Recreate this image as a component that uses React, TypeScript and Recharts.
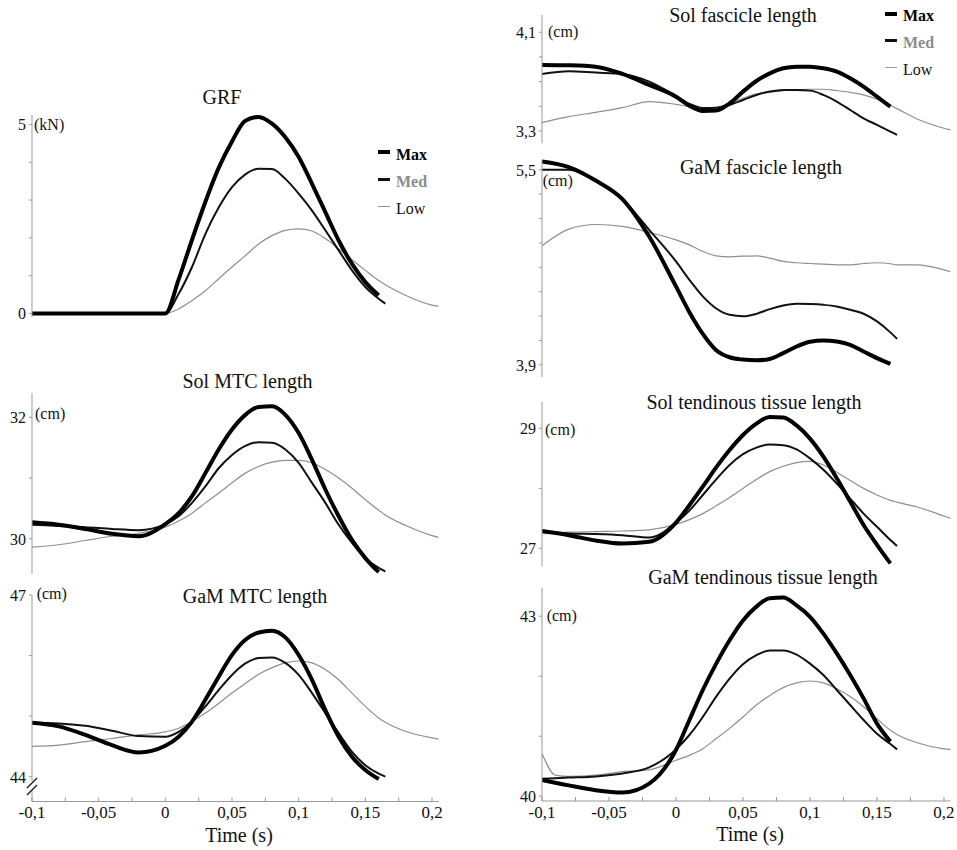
import React from 'react';
import { LineChart, Line, XAxis, YAxis, ReferenceLine, Legend } from 'recharts';

const FONT = "'Liberation Serif', 'DejaVu Serif', 'Times New Roman', serif";
const AXIS = '#9a9a9a';

// ---------- shared time grid (s) ----------
const time = [-0.1, -0.09, -0.08, -0.06, -0.04, -0.02, 0, 0.01, 0.02, 0.03, 0.04, 0.05, 0.06, 0.07, 0.08, 0.09, 0.1, 0.11, 0.12, 0.13, 0.14, 0.15, 0.16, 0.165, 0.18, 0.2, 0.205];

// ---------- GRF (kN) ----------
const grfMax = [0, null, 0, 0, 0, 0, 0, 0.9, 1.95, 2.95, 3.85, 4.55, 5.1, 5.2, 5.02, 4.66, 4.14, 3.43, 2.68, 1.93, 1.31, 0.83, 0.48, null, null, null, null];
const grfMed = [0, null, 0, 0, 0, 0, 0, 0.52, 1.23, 2.1, 2.8, 3.34, 3.68, 3.83, 3.82, 3.56, 3.17, 2.72, 2.2, 1.67, 1.14, 0.7, 0.39, 0.26, null, null, null];
const grfLow = [0, null, 0, 0, 0, 0, 0, 0.12, 0.34, 0.6, 0.92, 1.23, 1.53, 1.84, 2.06, 2.2, 2.24, 2.18, 1.98, 1.71, 1.42, 1.14, 0.87, 0.76, 0.48, 0.22, 0.19];

// ---------- Sol MTC length (cm) ----------
const solMtcMax = [30.27, null, 30.23, 30.16, 30.08, 30.04, 30.24, 30.42, 30.7, 31.08, 31.47, 31.8, 32.04, 32.17, 32.18, 32.04, 31.74, 31.3, 30.81, 30.37, 29.98, 29.68, 29.45, null, null, null, null];
const solMtcMed = [30.23, null, 30.21, 30.19, 30.16, 30.14, 30.24, 30.37, 30.59, 30.86, 31.16, 31.38, 31.53, 31.59, 31.58, 31.47, 31.25, 30.92, 30.59, 30.23, 29.93, 29.68, 29.52, 29.46, null, null, null];
const solMtcLow = [29.86, null, 29.9, 29.97, 30.04, 30.09, 30.19, 30.29, 30.42, 30.59, 30.75, 30.92, 31.08, 31.19, 31.26, 31.29, 31.29, 31.25, 31.14, 31.0, 30.83, 30.64, 30.47, 30.39, 30.22, 30.05, 30.02];

// ---------- GaM MTC length (cm) ----------
const gamMtcMax = [44.89, null, 44.83, 44.69, 44.52, 44.4, 44.51, 44.66, 44.91, 45.27, 45.65, 46.01, 46.26, 46.38, 46.41, 46.3, 46.01, 45.6, 45.1, 44.66, 44.33, 44.11, 43.96, null, null, null, null];
const gamMtcMed = [44.89, null, 44.88, 44.84, 44.76, 44.67, 44.66, 44.74, 44.91, 45.16, 45.43, 45.68, 45.87, 45.96, 45.97, 45.88, 45.68, 45.38, 45.05, 44.72, 44.41, 44.19, 44.05, 44.0, null, null, null];
const gamMtcLow = [44.5, null, 44.52, 44.58, 44.63, 44.69, 44.74, 44.8, 44.91, 45.05, 45.21, 45.38, 45.54, 45.69, 45.8, 45.88, 45.91, 45.88, 45.77, 45.6, 45.38, 45.16, 44.97, 44.9, 44.75, 44.64, 44.62];

// ---------- Sol fascicle length (cm) ----------
const solFasMax = [3.835, null, 3.832, 3.821, 3.762, 3.673, 3.578, 3.505, 3.462, 3.465, 3.524, 3.619, 3.705, 3.767, 3.808, 3.821, 3.821, 3.808, 3.781, 3.727, 3.659, 3.578, 3.497, null, null, null, null];
const solFasMed = [3.762, null, 3.784, 3.773, 3.762, 3.7, 3.584, 3.52, 3.486, 3.488, 3.511, 3.551, 3.592, 3.619, 3.632, 3.632, 3.627, 3.592, 3.538, 3.47, 3.403, 3.349, 3.295, 3.268, null, null, null];
const solFasLow = [3.368, null, 3.416, 3.451, 3.489, 3.538, 3.516, 3.497, 3.484, 3.492, 3.524, 3.565, 3.6, 3.613, 3.627, 3.632, 3.638, 3.638, 3.627, 3.613, 3.592, 3.557, 3.508, 3.481, 3.397, 3.322, 3.308];

// ---------- GaM fascicle length (cm) ----------
const gamFasMax = [5.568, null, 5.522, 5.412, 5.259, 4.952, 4.543, 4.332, 4.154, 4.02, 3.962, 3.943, 3.937, 3.948, 3.996, 4.05, 4.089, 4.1, 4.091, 4.064, 4.009, 3.955, 3.908, null, null, null, null];
const gamFasMed = [5.5, null, 5.5, 5.412, 5.259, 5.007, 4.748, 4.597, 4.461, 4.362, 4.31, 4.298, 4.318, 4.357, 4.386, 4.4, 4.398, 4.392, 4.379, 4.351, 4.319, 4.256, 4.166, 4.113, null, null, null];
const gamFasLow = [4.876, null, 5.013, 5.051, 5.035, 4.986, 4.925, 4.884, 4.83, 4.794, 4.786, 4.791, 4.794, 4.775, 4.748, 4.737, 4.731, 4.726, 4.72, 4.72, 4.731, 4.737, 4.729, 4.72, 4.72, 4.679, 4.663];

// ---------- Sol tendinous tissue length (cm) ----------
const solTenMax = [27.29, null, 27.22, 27.13, 27.08, 27.11, 27.43, 27.72, 28.03, 28.35, 28.64, 28.89, 29.08, 29.19, 29.18, 29.05, 28.83, 28.53, 28.17, 27.78, 27.39, 27.06, 26.75, null, null, null, null];
const solTenMed = [27.28, null, 27.25, 27.24, 27.22, 27.18, 27.43, 27.63, 27.89, 28.15, 28.39, 28.57, 28.68, 28.73, 28.72, 28.65, 28.5, 28.31, 28.08, 27.83, 27.58, 27.36, 27.14, 27.04, null, null, null];
const solTenLow = [27.24, null, 27.27, 27.28, 27.29, 27.31, 27.4, 27.48, 27.58, 27.71, 27.85, 28.0, 28.15, 28.28, 28.37, 28.43, 28.45, 28.39, 28.27, 28.13, 28.0, 27.89, 27.8, 27.77, 27.69, 27.54, 27.5];

// ---------- GaM tendinous tissue length (cm) ----------
const gamTenMax = [40.27, null, 40.18, 40.1, 40.06, 40.21, 40.77, 41.27, 41.77, 42.21, 42.6, 42.93, 43.16, 43.3, 43.31, 43.18, 42.99, 42.71, 42.38, 42.02, 41.63, 41.21, 40.91, null, null, null, null];
const gamTenMed = [40.29, null, 40.31, 40.33, 40.38, 40.48, 40.78, 41.02, 41.32, 41.66, 41.96, 42.2, 42.35, 42.43, 42.43, 42.36, 42.21, 42.02, 41.77, 41.52, 41.27, 41.04, 40.87, 40.78, null, null, null];
const gamTenLow = [40.71, 40.35, 40.33, 40.35, 40.41, 40.44, 40.6, 40.68, 40.79, 40.96, 41.13, 41.32, 41.52, 41.68, 41.81, 41.89, 41.92, 41.89, 41.79, 41.66, 41.49, 41.29, 41.1, 41.03, 40.89, 40.79, 40.78];

// ---------- ticks ----------
const xTicks = [-0.1, -0.075, -0.05, -0.025, 0, 0.025, 0.05, 0.075, 0.1, 0.125, 0.15, 0.175, 0.2];
const xTickLabels = ['-0,1', '', '-0,05', '', '0', '', '0,05', '', '0,1', '', '0,15', '', '0,2'];

const grfTicks = [0, 1, 2, 3, 4, 5];
const grfTickLabels = ['0', '', '', '', '', '5'];
const solMtcTicks = [30, 31, 32];
const solMtcTickLabels = ['30', '', '32'];
const gamMtcTicks = [44, 45, 46, 47];
const gamMtcTickLabels = ['44', '', '', '47'];
const solFasTicks = [3.3, 3.5, 3.7, 3.9, 4.1];
const solFasTickLabels = ['3,3', '', '', '', '4,1'];
const gamFasTicks = [3.9, 4.1, 4.3, 4.5, 4.7, 4.9, 5.1, 5.3, 5.5];
const gamFasTickLabels = ['3,9', '', '', '', '', '', '', '', '5,5'];
const solTenTicks = [27, 28, 29];
const solTenTickLabels = ['27', '', '29'];
const gamTenTicks = [40, 41, 42, 43];
const gamTenTickLabels = ['40', '', '', '43'];

const seriesNames = ['Max', 'Med', 'Low'];

const buildRows = (max: (number | null)[], med: (number | null)[], low: (number | null)[]) =>
  time.map((t, i) => ({ t, max: max[i], med: med[i], low: low[i] }));

// ---------- layout ----------
const COLS: Record<string, { x: number; w: number }> = {
  L: { x: 31.7, w: 406.7 },
  R: { x: 541.7, w: 408.7 },
};
const YW = 30;
const M = 12;
const XH = 30;

type PanelDef = {
  col: 'L' | 'R';
  top: number;
  bottom: number;
  domain: [number, number];
  yTicks: number[];
  yLabels: string[];
  rows: any[];
  xAxis?: boolean;
  legend?: { left: number; top: number };
};

const panels: PanelDef[] = [
  { col: 'L', top: 114.85, bottom: 317.1, domain: [-0.1, 5.25], yTicks: grfTicks, yLabels: grfTickLabels, rows: buildRows(grfMax, grfMed, grfLow), legend: { left: 378, top: 141 } },
  { col: 'L', top: 393.3, bottom: 574.2, domain: [29.42, 32.4], yTicks: solMtcTicks, yLabels: solMtcTickLabels, rows: buildRows(solMtcMax, solMtcMed, solMtcLow) },
  { col: 'L', top: 595, bottom: 801.5, domain: [43.59, 47], yTicks: gamMtcTicks, yLabels: gamMtcTickLabels, rows: buildRows(gamMtcMax, gamMtcMed, gamMtcLow), xAxis: true },
  { col: 'R', top: 15, bottom: 143.3, domain: [3.2, 4.24], yTicks: solFasTicks, yLabels: solFasTickLabels, rows: buildRows(solFasMax, solFasMed, solFasLow), legend: { left: 885, top: 2 } },
  { col: 'R', top: 160.2, bottom: 377.2, domain: [3.8, 5.58], yTicks: gamFasTicks, yLabels: gamFasTickLabels, rows: buildRows(gamFasMax, gamFasMed, gamFasLow) },
  { col: 'R', top: 401.9, bottom: 566.3, domain: [26.7, 29.44], yTicks: solTenTicks, yLabels: solTenTickLabels, rows: buildRows(solTenMax, solTenMed, solTenLow) },
  { col: 'R', top: 587.8, bottom: 800.8, domain: [39.92, 43.47], yTicks: gamTenTicks, yLabels: gamTenTickLabels, rows: buildRows(gamTenMax, gamTenMed, gamTenLow), xAxis: true },
];

const titles = [
  { text: 'GRF', cx: 222, base: 104 },
  { text: 'Sol MTC length', cx: 247.5, base: 387.5 },
  { text: 'GaM MTC length', cx: 255, base: 602.7 },
  { text: 'Sol fascicle length', cx: 743, base: 21.7 },
  { text: 'GaM fascicle length', cx: 761, base: 173.3 },
  { text: 'Sol tendinous tissue length', cx: 754, base: 408.3 },
  { text: 'GaM tendinous tissue length', cx: 763, base: 584 },
];

const units = [
  { text: '(kN)', x: 34, base: 130 },
  { text: '(cm)', x: 35, base: 419.3 },
  { text: '(cm)', x: 36.7, base: 599.3 },
  { text: '(cm)', x: 548, base: 37.3 },
  { text: '(cm)', x: 542.7, base: 186.7 },
  { text: '(cm)', x: 545, base: 435 },
  { text: '(cm)', x: 546.7, base: 621.7 },
];

const axisTitles = [
  { text: 'Time (s)', cx: 239, base: 842 },
  { text: 'Time (s)', cx: 750, base: 841 },
];

const lineStyle = {
  max: { stroke: '#000', width: 4 },
  med: { stroke: '#111', width: 2 },
  low: { stroke: '#8f8f8f', width: 1.2 },
};

const legendText = [
  { color: '#000', weight: 700 },
  { color: '#8c8c8c', weight: 700 },
  { color: '#111', weight: 400 },
];
const legendSample = [
  { color: '#000', h: 4 },
  { color: '#111', h: 2.5 },
  { color: '#9a9a9a', h: 1 },
];

function LegendBox() {
  return (
    <div style={{ fontFamily: FONT, fontSize: 16 }}>
      {seriesNames.map((n, i) => (
        <div key={n} style={{ display: 'flex', alignItems: 'center', height: 27, lineHeight: '27px', whiteSpace: 'nowrap' }}>
          <span style={{ display: 'inline-block', width: 12, height: legendSample[i].h, background: legendSample[i].color, marginRight: 6, marginTop: -4 }} />
          <span style={{ fontWeight: legendText[i].weight, color: legendText[i].color }}>{n}</span>
        </div>
      ))}
    </div>
  );
}

function XTick(props: any) {
  const { x, y, payload } = props;
  const idx = xTicks.indexOf(payload.value);
  const label = idx >= 0 ? xTickLabels[idx] : '';
  return (
    <g>
      <line x1={x} x2={x} y1={y} y2={y - 4} stroke={AXIS} strokeWidth={1} />
      {label ? (
        <text x={x} y={y + 17} textAnchor="middle" fontSize={17} fontFamily={FONT} fill="#111">
          {label}
        </text>
      ) : null}
    </g>
  );
}

function makeYTick(ticks: number[], labels: string[]) {
  return (props: any) => {
    const { x, y, payload } = props;
    const idx = ticks.indexOf(payload.value);
    const label = idx >= 0 ? labels[idx] : '';
    return (
      <g>
        <line x1={x - 3} x2={x} y1={y} y2={y} stroke={AXIS} strokeWidth={1} />
        {label ? (
          <text x={x - 6} y={y + 6} textAnchor="end" fontSize={16} fontFamily={FONT} fill="#111">
            {label}
          </text>
        ) : null}
      </g>
    );
  };
}

function Panel({ def }: { def: PanelDef }) {
  const c = COLS[def.col];
  const plotH = def.bottom - def.top;
  const chartLeft = c.x - YW;
  const chartTop = def.top - M;
  const width = YW + c.w + 6;
  const height = M + plotH + (def.xAxis ? XH : M);
  return (
    <div style={{ position: 'absolute', left: chartLeft, top: chartTop }}>
      <LineChart width={width} height={height} data={def.rows} margin={{ top: M, right: 6, bottom: def.xAxis ? 0 : M, left: 0 }}>
        <XAxis
          type="number"
          dataKey="t"
          domain={[-0.1, 0.205]}
          ticks={xTicks}
          interval={0}
          hide={!def.xAxis}
          height={XH}
          tickSize={0}
          tickMargin={0}
          tickLine={false}
          axisLine={{ stroke: AXIS }}
          tick={<XTick />}
          allowDataOverflow
        />
        <YAxis
          type="number"
          domain={def.domain}
          ticks={def.yTicks}
          interval={0}
          width={YW}
          tickSize={0}
          tickMargin={0}
          tickLine={false}
          axisLine={{ stroke: AXIS }}
          tick={makeYTick(def.yTicks, def.yLabels)}
        />
        <Line type="monotone" dataKey="low" name="Low" stroke={lineStyle.low.stroke} strokeWidth={lineStyle.low.width} dot={false} connectNulls isAnimationActive={false} />
        <Line type="monotone" dataKey="med" name="Med" stroke={lineStyle.med.stroke} strokeWidth={lineStyle.med.width} dot={false} connectNulls isAnimationActive={false} />
        <Line type="monotone" dataKey="max" name="Max" stroke={lineStyle.max.stroke} strokeWidth={lineStyle.max.width} dot={false} connectNulls isAnimationActive={false} />
        {def.legend ? (
          <Legend
            layout="vertical"
            align="center"
            verticalAlign="middle"
            content={<LegendBox />}
            wrapperStyle={{ left: def.legend.left - chartLeft, top: def.legend.top - chartTop, right: 'auto', bottom: 'auto', width: 'auto', height: 'auto' }}
          />
        ) : null}
      </LineChart>
    </div>
  );
}

const zeroRows = time.map((t) => ({ t }));

function ZeroLine({ col, top, bottom }: { col: 'L' | 'R'; top: number; bottom: number }) {
  const c = COLS[col];
  return (
    <div style={{ position: 'absolute', left: c.x, top }}>
      <LineChart width={c.w} height={bottom - top} data={zeroRows} margin={{ top: 0, right: 0, bottom: 0, left: 0 }}>
        <XAxis type="number" dataKey="t" domain={[-0.1, 0.205]} hide allowDataOverflow />
        <YAxis type="number" domain={[0, 1]} hide />
        <ReferenceLine x={0} stroke="#000" strokeWidth={2} strokeDasharray="2 2" />
      </LineChart>
    </div>
  );
}

function TextAt({ text, left, base, size, center }: { text: string; left: number; base: number; size: number; center?: boolean }) {
  return (
    <div
      style={{
        position: 'absolute',
        left,
        top: base - size * 0.8375,
        fontFamily: FONT,
        fontSize: size,
        lineHeight: `${size}px`,
        whiteSpace: 'nowrap',
        color: '#111',
        transform: center ? 'translateX(-50%)' : undefined,
      }}
    >
      {text}
    </div>
  );
}

// axis-break mark on the lower-left y axis (decoration)
function AxisBreak() {
  return (
    <svg style={{ position: 'absolute', left: 22, top: 772 }} width={20} height={28}>
      <rect x={8} y={9} width={4} height={9} fill="#fff" />
      <line x1={5} y1={16} x2={15} y2={6} stroke="#222" strokeWidth={1.5} />
      <line x1={5} y1={23} x2={15} y2={13} stroke="#222" strokeWidth={1.5} />
    </svg>
  );
}

export default function App() {
  return (
    <div style={{ position: 'absolute', left: 0, top: 0, width: 957, height: 850, background: '#fff', overflow: 'hidden', fontFamily: FONT }}>
      {panels.map((p, i) => (
        <Panel key={i} def={p} />
      ))}
      <ZeroLine col="L" top={130} bottom={801.5} />
      <ZeroLine col="R" top={62} bottom={800.8} />
      <AxisBreak />
      {titles.map((t, i) => (
        <TextAt key={'t' + i} text={t.text} left={t.cx} base={t.base} size={20} center />
      ))}
      {units.map((u, i) => (
        <TextAt key={'u' + i} text={u.text} left={u.x} base={u.base} size={16} />
      ))}
      {axisTitles.map((a, i) => (
        <TextAt key={'a' + i} text={a.text} left={a.cx} base={a.base} size={20} center />
      ))}
    </div>
  );
}
